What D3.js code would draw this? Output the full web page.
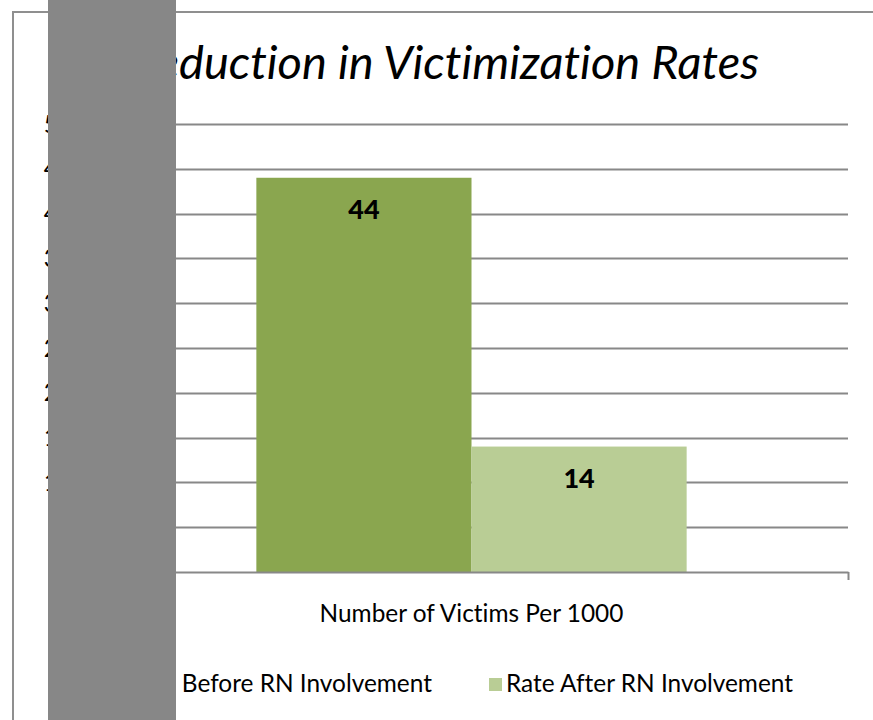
<!DOCTYPE html>
<html>
<head>
<meta charset="utf-8">
<script src="https://cdn.jsdelivr.net/npm/d3@7"></script>
<style>
  html, body { margin: 0; padding: 0; background: #fff; }
  svg { display: block; font-family: Lato, "Open Sans", sans-serif; font-variant-ligatures: none; font-feature-settings: "liga" 0, "clig" 0; }
</style>
</head>
<body>
<svg id="chart" width="873" height="720"></svg>
<script>
// ---- data ----
const categories = ["Number of Victims Per 1000"];
const seriesNames = ["Rate Before RN Involvement", "Rate After RN Involvement"];
const seriesValues = [44, 14];
const yTicks = [0, 5, 10, 15, 20, 25, 30, 35, 40, 45, 50];
const chartTitle = "Reduction in Victimization Rates";
const seriesColors = ["#8aa64f", "#b9cd95"];

// ---- layout ----
const svg = d3.select("#chart");
const W = 873, H = 720;
const plot = { left: 95, right: 848, top: 124, bottom: 572 };
const fs = 24.4;

// outer chart border
svg.append("rect")
  .attr("x", 13).attr("y", 12)
  .attr("width", W + 20).attr("height", H + 20)
  .attr("fill", "#fff")
  .attr("stroke", "#8f8f8f").attr("stroke-width", 2);

const y = d3.scaleLinear().domain([0, 50]).range([plot.bottom, plot.top]);
const x0 = d3.scaleBand().domain(categories).range([plot.left, plot.right])
  .paddingInner(0).paddingOuter(0.375);
const x1 = d3.scaleBand().domain(seriesNames).range([0, x0.bandwidth()]).padding(0);

// gridlines
svg.append("g").selectAll("line")
  .data(yTicks.filter(d => d > 0))
  .join("line")
  .attr("x1", plot.left).attr("x2", plot.right)
  .attr("y1", d => Math.round(y(d)) + 0.5).attr("y2", d => Math.round(y(d)) + 0.5)
  .attr("stroke", "#888").attr("stroke-width", 2);

// y tick labels
svg.append("g").selectAll("text")
  .data(yTicks)
  .join("text")
  .attr("x", 72)
  .attr("y", d => y(d))
  .attr("dy", "0.35em")
  .attr("text-anchor", "end")
  .attr("font-size", fs)
  .attr("fill", "#000")
  .text(d => d);

// bars
const gBars = svg.append("g");
categories.forEach(cat => {
  seriesNames.forEach((s, i) => {
    const v = seriesValues[i];
    gBars.append("rect")
      .attr("x", x0(cat) + x1(s))
      .attr("y", y(v))
      .attr("width", x1.bandwidth())
      .attr("height", y(0) - y(v))
      .attr("fill", seriesColors[i]);
    gBars.append("text")
      .attr("x", x0(cat) + x1(s) + x1.bandwidth() / 2)
      .attr("y", y(v) + 41)
      .attr("text-anchor", "middle")
      .attr("font-size", 27)
      .attr("font-weight", "900")
      .attr("fill", "#000")
      .text(v);
  });
});

// x axis line with boundary ticks
const xAxis = d3.axisBottom(d3.scaleLinear().domain([0, 1]).range([plot.left, plot.right]))
  .tickValues([0, 1]).tickFormat("").tickSizeInner(8).tickSizeOuter(0);
const gx = svg.append("g").attr("transform", `translate(0,${plot.bottom})`).call(xAxis);
gx.select(".domain").attr("stroke", "#888").attr("stroke-width", 2);
gx.selectAll(".tick line").attr("stroke", "#888").attr("stroke-width", 2);

// category label
svg.append("g").selectAll("text")
  .data(categories)
  .join("text")
  .attr("x", d => x0(d) + x0.bandwidth() / 2)
  .attr("y", 622)
  .attr("text-anchor", "middle")
  .attr("font-size", fs)
  .attr("fill", "#000")
  .text(d => d);

// title
svg.append("text")
  .attr("x", 759).attr("y", 79)
  .attr("text-anchor", "end")
  .attr("font-size", 47)
  .attr("font-style", "italic")
  .attr("fill", "#000")
  .text(chartTitle);

// legend
const legendItems = [
  { sx: 110, tx: 127 },
  { sx: 489, tx: 506 }
];
const gLeg = svg.append("g");
seriesNames.forEach((s, i) => {
  gLeg.append("rect")
    .attr("x", legendItems[i].sx).attr("y", 678)
    .attr("width", 13).attr("height", 13)
    .attr("fill", seriesColors[i]);
  gLeg.append("text")
    .attr("x", legendItems[i].tx).attr("y", 692)
    .attr("font-size", fs)
    .attr("fill", "#000")
    .text(s);
});

// grey overlay block
svg.append("rect")
  .attr("x", 48).attr("y", 0)
  .attr("width", 128).attr("height", H)
  .attr("fill", "#878787");
</script>
</body>
</html>
